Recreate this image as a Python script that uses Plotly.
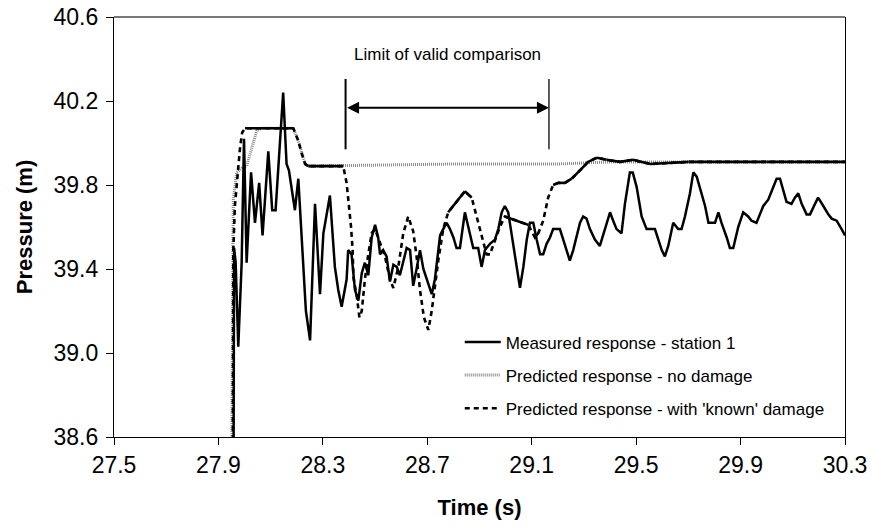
import plotly.graph_objects as go

# ---------------- data ----------------
meas_t = [27.958, 27.960, 27.966, 27.976, 27.989, 27.998, 28.008, 28.025, 28.040, 28.056,
          28.069, 28.091, 28.106, 28.119, 28.148, 28.161, 28.170, 28.193, 28.206, 28.235,
          28.251, 28.270, 28.282, 28.289, 28.302, 28.327, 28.346, 28.359, 28.372, 28.391,
          28.397, 28.410, 28.423, 28.436, 28.449, 28.461, 28.474, 28.487, 28.500, 28.512,
          28.519, 28.531, 28.544, 28.557, 28.570, 28.583, 28.595, 28.608, 28.621, 28.634,
          28.646, 28.659, 28.672, 28.685, 28.704, 28.717, 28.729, 28.742, 28.749, 28.761,
          28.774, 28.787, 28.800, 28.812, 28.825, 28.844, 28.857, 28.876, 28.895, 28.908,
          28.921, 28.940, 28.959, 28.972, 28.985, 28.997, 29.010, 29.023, 29.042, 29.055,
          29.068, 29.081, 29.093, 29.106, 29.119, 29.132, 29.144, 29.157, 29.170, 29.182,
          29.208, 29.221, 29.234, 29.246, 29.259, 29.272, 29.285, 29.297, 29.310, 29.323,
          29.342, 29.361, 29.380, 29.400, 29.412, 29.425, 29.444, 29.457, 29.476, 29.487,
          29.502, 29.521, 29.540, 29.572, 29.585, 29.598, 29.610, 29.623, 29.642, 29.661,
          29.674, 29.687, 29.706, 29.719, 29.732, 29.751, 29.764, 29.777, 29.802, 29.815,
          29.827, 29.847, 29.859, 29.872, 29.891, 29.910, 29.929, 29.942, 29.961, 29.974,
          29.987, 30.006, 30.019, 30.038, 30.051, 30.063, 30.076, 30.095, 30.108, 30.121,
          30.134, 30.153, 30.166, 30.185, 30.197, 30.217, 30.236, 30.249, 30.268, 30.287,
          30.300]
meas_p = [38.50, 39.50, 39.43, 39.03, 39.43, 40.02, 39.43, 39.86, 39.62, 39.81,
          39.56, 39.96, 39.68, 39.68, 40.24, 39.90, 39.87, 39.68, 39.83, 39.20,
          39.06, 39.71, 39.44, 39.28, 39.57, 39.75, 39.41, 39.30, 39.22, 39.35,
          39.49, 39.47, 39.30, 39.25, 39.38, 39.43, 39.37, 39.55, 39.61, 39.55,
          39.47, 39.49, 39.46, 39.34, 39.42, 39.41, 39.37, 39.43, 39.50, 39.49,
          39.32, 39.40, 39.49, 39.40, 39.33, 39.28, 39.35, 39.49, 39.56, 39.59,
          39.62, 39.59, 39.55, 39.50, 39.50, 39.67, 39.60, 39.50, 39.50, 39.41,
          39.49, 39.52, 39.54, 39.59, 39.67, 39.70, 39.67, 39.57, 39.41, 39.31,
          39.41, 39.54, 39.62, 39.62, 39.54, 39.47, 39.47, 39.52, 39.55, 39.59,
          39.59, 39.54, 39.49, 39.44, 39.49, 39.55, 39.62, 39.65, 39.64, 39.59,
          39.54, 39.51, 39.59, 39.67, 39.63, 39.59, 39.57, 39.71, 39.86, 39.86,
          39.79, 39.65, 39.59, 39.59, 39.54, 39.49, 39.46, 39.51, 39.62, 39.59,
          39.59, 39.65, 39.76, 39.86, 39.84, 39.76, 39.70, 39.62, 39.62, 39.67,
          39.62, 39.55, 39.50, 39.50, 39.60, 39.67, 39.65, 39.63, 39.62, 39.66,
          39.70, 39.73, 39.77, 39.83, 39.83, 39.78, 39.72, 39.71, 39.74, 39.76,
          39.71, 39.66, 39.66, 39.71, 39.74, 39.70, 39.66, 39.64, 39.63, 39.59,
          39.56]

nodmg_t = [27.951, 27.957, 27.970, 27.989, 28.008, 28.027, 28.047, 28.066, 28.187, 28.206,
           28.219, 28.232, 28.244, 28.600, 28.800, 29.200, 29.400, 30.300]
nodmg_p = [38.50, 39.73, 39.86, 39.88, 39.89, 39.97, 40.06, 40.07, 40.07, 40.01,
           39.95, 39.90, 39.89, 39.895, 39.90, 39.90, 39.91, 39.91]

known_t = [27.955, 27.957, 27.963, 27.974, 27.983, 27.991, 28.002, 28.187, 28.206, 28.219,
           28.232, 28.244, 28.378, 28.391, 28.400, 28.408, 28.414, 28.417, 28.430, 28.440,
           28.449, 28.461, 28.474, 28.487, 28.500, 28.519, 28.538, 28.557, 28.570, 28.589,
           28.608, 28.627, 28.646, 28.659, 28.672, 28.687, 28.704, 28.717, 28.729, 28.742,
           28.761, 28.780, 28.812, 28.844, 28.870, 28.889, 28.914, 28.927, 28.940, 28.952,
           28.978, 28.997, 29.042, 29.087, 29.112, 29.125, 29.144, 29.163, 29.182, 29.202,
           29.227, 29.253, 29.285, 29.316, 29.350, 29.387, 29.438, 29.488, 29.553, 29.700,
           30.000, 30.300]
known_p = [38.50, 39.49, 39.70, 39.87, 39.98, 40.05, 40.07, 40.07, 40.01, 39.95,
           39.90, 39.89, 39.89, 39.81, 39.71, 39.60, 39.49, 39.36, 39.27, 39.17,
           39.20, 39.35, 39.47, 39.57, 39.59, 39.52, 39.46, 39.35, 39.31, 39.41,
           39.57, 39.65, 39.58, 39.46, 39.30, 39.17, 39.11, 39.20, 39.32, 39.44,
           39.59, 39.67, 39.72, 39.77, 39.74, 39.65, 39.54, 39.47, 39.47, 39.51,
           39.60, 39.65, 39.63, 39.61, 39.55, 39.57, 39.63, 39.74, 39.80, 39.81,
           39.81, 39.83, 39.87, 39.91, 39.93, 39.92, 39.91, 39.92, 39.90, 39.91,
           39.91, 39.91]

x_ticks = [27.5, 27.9, 28.3, 28.7, 29.1, 29.5, 29.9, 30.3]
y_ticks = [38.6, 39.0, 39.4, 39.8, 40.2, 40.6]

limit_start, limit_end = 28.387, 29.166
names = ["Measured response - station 1",
         "Predicted response - no damage",
         "Predicted response - with 'known' damage"]

FONT = "Arial, Liberation Sans, sans-serif"

# Excel draws the dashed series solid where its segments are short (shallow slope)
solid_t, solid_p = [], []
for i in range(len(known_t) - 1):
    slope = abs((known_p[i + 1] - known_p[i]) / (known_t[i + 1] - known_t[i]))
    if slope < 1.6:
        solid_t += [known_t[i], known_t[i + 1], None]
        solid_p += [known_p[i], known_p[i + 1], None]

fig = go.Figure()
fig.add_trace(go.Scatter(x=nodmg_t, y=nodmg_p, mode="lines", name=names[1],
                         legendgroup="b", legendrank=2,
                         line=dict(color="#8a8a8a", width=3, dash="1px,1px")))
fig.add_trace(go.Scatter(x=known_t, y=known_p, mode="lines", name=names[2],
                         legendgroup="c", legendrank=3,
                         line=dict(color="black", width=2.6, dash="5px,4px")))
fig.add_trace(go.Scatter(x=solid_t, y=solid_p, mode="lines", showlegend=False,
                         legendgroup="c", hoverinfo="skip",
                         line=dict(color="black", width=2.6)))
fig.add_trace(go.Scatter(x=meas_t, y=meas_p, mode="lines", name=names[0],
                         legendgroup="a", legendrank=1,
                         line=dict(color="black", width=2.5)))

# limit of valid comparison
for xv, w in [(limit_start, 2), (limit_end, 1.3)]:
    fig.add_shape(type="line", xref="x", yref="y", x0=xv, x1=xv, y0=39.97, y1=40.305,
                  line=dict(color="black", width=w))
fig.add_annotation(x=limit_end, y=40.168, ax=limit_start, ay=40.168, xref="x", yref="y",
                   axref="x", ayref="y", text="", showarrow=True, arrowhead=2,
                   arrowside="end+start", arrowsize=1.2, arrowwidth=2, arrowcolor="black")
fig.add_annotation(x=(limit_start + limit_end) / 2, y=40.42, xref="x", yref="y",
                   text="Limit of valid comparison", showarrow=False,
                   font=dict(family=FONT, size=17, color="black"))
# top frame line (grey)
fig.add_shape(type="line", xref="paper", yref="paper", x0=0, x1=1, y0=1, y1=1,
              line=dict(color="#777777", width=2))

fig.update_layout(
    width=872, height=530,
    margin=dict(l=114, r=27, t=17, b=93, autoexpand=False),
    paper_bgcolor="white", plot_bgcolor="white",
    font=dict(family=FONT, size=23, color="black"),
    showlegend=True,
    legend=dict(x=0.473, y=0.268, xanchor="left", yanchor="top",
                bgcolor="rgba(0,0,0,0)", font=dict(family=FONT, size=17),
                traceorder="grouped", tracegroupgap=8, itemwidth=36),
    xaxis=dict(range=[27.5, 30.3], tickvals=x_ticks, ticktext=[f"{v:.1f}" for v in x_ticks],
               showgrid=False, zeroline=False, showline=True, linecolor="black", linewidth=1.3,
               ticks="outside", ticklen=7, tickcolor="black", tickwidth=1.3,
               tickfont=dict(size=23), automargin=False,
               title=dict(text="<b>Time (s)</b>", font=dict(family=FONT, size=22), standoff=22)),
    yaxis=dict(range=[38.6, 40.6], tickvals=y_ticks, ticktext=[f"{v:.1f}" for v in y_ticks],
               showgrid=False, zeroline=False, showline=True, linecolor="black", linewidth=1.3,
               mirror=True, automargin=False,
               ticks="outside", ticklen=7, tickcolor="black", tickwidth=1.3,
               tickfont=dict(size=23), ticklabelstandoff=3,
               title=dict(text="<b>Pressure (m)</b>", font=dict(family=FONT, size=22), standoff=14)),
)

fig.write_html("out.html")
